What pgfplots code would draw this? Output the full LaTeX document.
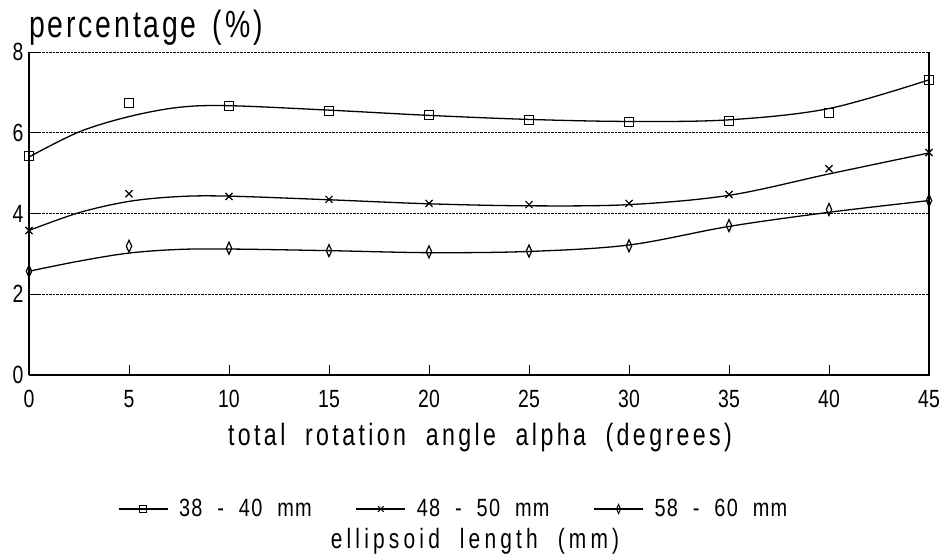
\documentclass[border=0pt]{standalone}
\usepackage{pgfplots}
\pgfplotsset{compat=1.18}
\usepackage{fontspec}
\setmainfont[FakeStretch=0.78]{Liberation Sans}
\newfontfamily\labfont[FakeStretch=0.75, LetterSpace=11, WordSpace=2]{Liberation Sans}
\newfontfamily\elfont[FakeStretch=0.75, LetterSpace=15, WordSpace=2]{Liberation Sans}
\newfontfamily\legfont[FakeStretch=0.8, LetterSpace=5, WordSpace=2.2]{Liberation Sans}
\newfontfamily\titfont[FakeStretch=0.75, LetterSpace=7.5, WordSpace=1.5]{Liberation Sans}
\begin{document}
\begin{tikzpicture}[x=1bp,y=1bp]
\useasboundingbox (-29,-181) rectangle (917,375);
\begin{axis}[
  name=ax,
  at={(0,0)}, anchor=south west,
  scale only axis, width=900bp, height=323bp,
  xmin=0, xmax=45, ymin=0, ymax=8,
  xtick={0,5,...,45}, ytick={0,2,4,6,8},
  axis x line*=bottom, axis y line*=left,
  ymajorgrids, grid style={black, densely dotted, line width=0.7pt},
  axis line style={black, line width=1.1pt},
  tick style={black, line width=0.8pt},
  major tick length=10bp,
  tick align=inside,
  /pgf/number format/assume math mode=true,
  ticklabel style={font=\fontsize{25}{28}\selectfont},
  xticklabel style={yshift=-12bp},
  yticklabel style={xshift=-2bp},
  legend style={at={(axis description cs:0.0989,-0.4149)}, anchor=west, draw=none, fill=none,
    inner sep=0pt, outer sep=0pt, nodes={inner sep=0pt},
    font=\fontsize{25}{30}\legfont,
    /tikz/every odd column/.append style={column sep=11bp},
    /tikz/every even column/.append style={column sep=44bp}},
  legend columns=3,
  legend image code/.code={
    \draw[line width=1.1pt, mark repeat=2, mark phase=2] plot coordinates {(0bp,0bp)(24.5bp,0bp)(49bp,0bp)};},
]
% fitted smooth curves
\addplot[black, line width=1.3pt, smooth, tension=0.55, forget plot] coordinates {
 (0,5.40)(2.5,6.02)(5,6.40)(7.5,6.63)(10,6.67)(15,6.56)(20,6.43)(25,6.33)(30,6.28)(35,6.32)(40,6.60)(45,7.31)};
\addplot[black, line width=1.3pt, smooth, tension=0.55, forget plot] coordinates {
 (0,3.58)(2.5,4.02)(5,4.30)(7.5,4.42)(10,4.43)(15,4.34)(20,4.24)(25,4.19)(30,4.22)(35,4.45)(40,4.98)(45,5.50)};
\addplot[black, line width=1.3pt, smooth, tension=0.55, forget plot] coordinates {
 (0,2.57)(2.5,2.82)(5,3.02)(7.5,3.11)(10,3.12)(15,3.08)(20,3.03)(25,3.06)(30,3.22)(35,3.68)(40,4.03)(45,4.32)};
% data markers
\addplot[only marks, mark=square, mark size=4.5bp, mark options={black, line width=1.2pt}, forget plot] coordinates {
 (0,5.43)(5,6.74)(10,6.67)(15,6.54)(20,6.44)(25,6.32)(30,6.27)(35,6.30)(40,6.49)(45,7.31)};
\addplot[only marks, mark=x, mark size=5bp, mark options={black, line width=1.2pt}, forget plot] coordinates {
 (0,3.58)(5,4.49)(10,4.42)(15,4.35)(20,4.25)(25,4.22)(30,4.25)(35,4.47)(40,5.11)(45,5.51)};
\addplot[only marks, mark=diamond, mark size=6bp, mark options={black, line width=1.2pt, xscale=0.6}, forget plot] coordinates {
 (0,2.57)(5,3.19)(10,3.14)(15,3.08)(20,3.05)(25,3.07)(30,3.20)(35,3.70)(40,4.10)(45,4.32)};
\addlegendimage{black, mark=square, mark size=3.5bp, mark options={line width=1pt}}
\addlegendentry{38 - 40 mm}
\addlegendimage{black, mark=x, mark size=4bp, mark options={line width=1pt}}
\addlegendentry{48 - 50 mm}
\addlegendimage{black, mark=diamond, mark size=4.5bp, mark options={line width=1pt, xscale=0.6}}
\addlegendentry{58 - 60 mm}
\end{axis}
\draw[black, line width=1.1pt] (ax.south east) -- (ax.north east);
\node[anchor=base west, inner sep=0pt, font=\fontsize{38}{42}\titfont] at ([yshift=14bp]ax.north west) {percentage (\%)};
\node[anchor=base, inner sep=0pt, font=\fontsize{31}{36}\labfont] at ([xshift=451bp, yshift=-71bp]ax.south west) {total rotation angle alpha (degrees)};
\node[anchor=base, inner sep=0pt, font=\fontsize{28}{33}\elfont] at ([xshift=446bp, yshift=-174bp]ax.south west) {ellipsoid length (mm)};
\end{tikzpicture}
\end{document}
